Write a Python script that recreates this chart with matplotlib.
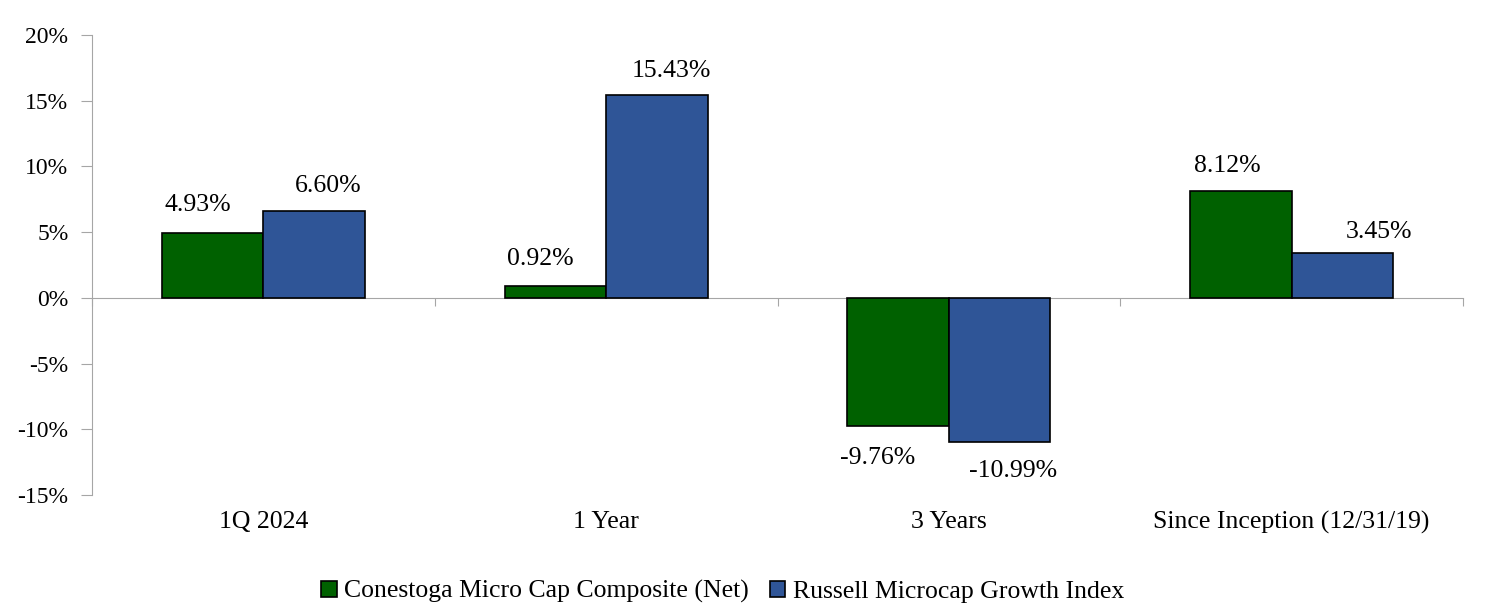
import matplotlib
matplotlib.use("Agg")
import matplotlib.pyplot as plt
import matplotlib.transforms as mtransforms
import numpy as np

# Data
categories = ['1Q 2024', '1 Year', '3 Years', 'Since Inception (12/31/19)']
composite = [4.93, 0.92, -9.76, 8.12]
russell = [6.60, 15.43, -10.99, 3.45]
series_names = ['Conestoga Micro Cap Composite (Net)', 'Russell Microcap Growth Index']

# label nudges in pixels (as placed in the original)
comp_dx = [-15, -15, -21, -14]
comp_dy = [28, 27, -32, 25]
russ_dx = [14, 15, 13, 37]
russ_dy = [25, 24, -29, 21]

plt.rcParams['font.family'] = ['Liberation Serif', 'DejaVu Serif']
plt.rcParams['font.size'] = 18.5

green = '#006100'
blue = '#2F5597'
gray = '#A6A6A6'

fig = plt.figure(figsize=(14.88, 6.13), dpi=100)
ax = fig.add_axes([92 / 1488, 1 - 495 / 613, (1463 - 92) / 1488, (495 - 35) / 613])

x = np.arange(len(categories))
w = 0.296
b1 = ax.bar(x - w / 2, composite, w, color=green, edgecolor='black', linewidth=1.2,
            label=series_names[0], zorder=3)
b2 = ax.bar(x + w / 2, russell, w, color=blue, edgecolor='black', linewidth=1.2,
            label=series_names[1], zorder=3)

# data labels
for bars, vals, dxs, dys in [(b1, composite, comp_dx, comp_dy), (b2, russell, russ_dx, russ_dy)]:
    for rect, v, dx, dy in zip(bars, vals, dxs, dys):
        cx = rect.get_x() + rect.get_width() / 2
        ax.annotate('%.2f%%' % v, (cx, v), xytext=(dx, dy), textcoords='offset pixels',
                    ha='center', va='center')

ax.set_xlim(-0.5, len(categories) - 0.5)
ax.set_ylim(-15, 20)
ax.set_yticks(np.arange(-15, 21, 5))
ax.set_yticklabels(['%d%%' % t for t in np.arange(-15, 21, 5)])

# x axis line at zero with ticks between categories
ax.spines['bottom'].set_position(('data', 0))
ax.spines['bottom'].set_color(gray)
ax.spines['left'].set_color(gray)
ax.spines['top'].set_visible(False)
ax.spines['right'].set_visible(False)
ax.set_xticks(np.arange(-0.5, len(categories), 1.0))
ax.set_xticklabels([])
ax.tick_params(axis='x', direction='out', length=6, color=gray)
ax.tick_params(axis='y', direction='out', length=8, color=gray, pad=9, labelsize=17)

# category labels below the plot
trans = mtransforms.blended_transform_factory(ax.transData, ax.transAxes)
for i, c in enumerate(categories):
    ax.text(i, -0.035, c, transform=trans, ha='center', va='top')

ax.legend(loc='upper center', bbox_to_anchor=(0.46, -0.135), ncol=2, frameon=False,
          handlelength=0.6, handleheight=0.6, handletextpad=0.3, columnspacing=0.8)

fig.savefig('out.png', dpi=100)
